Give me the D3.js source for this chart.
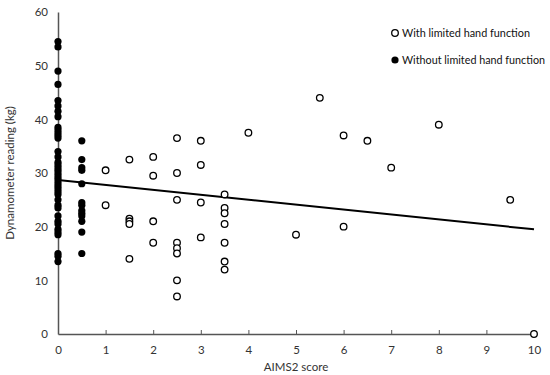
<!DOCTYPE html>
<html><head><meta charset="utf-8">
<script src="https://cdn.jsdelivr.net/npm/d3@7"></script>
<style>body{margin:0;background:#fff;} svg{display:block;font-family:Lato,sans-serif;}</style>
</head><body>
<svg id="c" width="550" height="375"></svg>
<script>
// Open circles: with limited hand function
const withX = [1,1, 1.5,1.5,1.5,1.5,1.5, 2,2,2,2, 2.5,2.5,2.5,2.5,2.5,2.5,2.5,2.5, 3,3,3,3, 3.5,3.5,3.5,3.5,3.5,3.5,3.5, 4, 5, 5.5, 6,6, 6.5, 7, 8, 9.5, 10];
const withY = [30.5,24, 32.5,21.5,21,20.5,14, 33,29.5,21,17, 36.5,30,25,17,16,15,10,7, 36,31.5,24.5,18, 26,23.5,22.5,20.5,17,13.5,12, 37.5, 18.5, 44, 37,20, 36, 31, 39, 25, 0];
// Filled circles: without limited hand function
const withoutX = [0,0,0,0,0,0,0,0,0,0,0,0,0,0,0,0,0,0,0,0,0,0,0,0,0,0,0,0,0,0,0,0,0,0,0,0,0,0,0,0,
                  0.5,0.5,0.5,0.5,0.5,0.5,0.5,0.5,0.5,0.5,0.5,0.5,0.5];
const withoutY = [54.5,53.5,49,46.5,43.5,42.5,41.5,40.5,38.5,38,37.5,37,36.5,34,33,32,31.5,31,30.5,30,29.5,29,28.5,28,27.5,27,26.5,26,25,24,23.5,22,21,20.5,19.5,19,18.5,15,14.5,13.5,
                  36,32.5,31,30.5,28,24.5,24,23,22.5,22,21,19,15];
// Linear trend line (intercept, slope)
const trendIntercept = 28.7;
const trendSlope = -0.92;
const xTicks = [0,1,2,3,4,5,6,7,8,9,10];
const yTicks = [0,10,20,30,40,50,60];
const legendLabels = ["With limited hand function","Without limited hand function"];

const svg = d3.select("#c");
const x = d3.scaleLinear().domain([0,10]).range([58,534]);
const y = d3.scaleLinear().domain([0,60]).range([334,12]);
const txt = "#333333";
const fs = "11.5px";

// axes
const gx = svg.append("g").attr("transform","translate(0,334)")
  .call(d3.axisBottom(x).tickValues(xTicks).tickSizeInner(-4).tickSizeOuter(0).tickPadding(12));
gx.select(".domain").attr("stroke","#555").attr("stroke-width",1.5);
gx.selectAll(".tick line").attr("stroke","#555");
gx.selectAll(".tick text").attr("fill",txt).style("font-size",fs).style("font-family","Lato");

const gy = svg.append("g").attr("transform","translate(58,0)")
  .call(d3.axisLeft(y).tickValues(yTicks).tickSize(0).tickPadding(10));
gy.select(".domain").attr("stroke","#555").attr("stroke-width",1.5);
gy.selectAll(".tick text").attr("fill",txt).style("font-size",fs).style("font-family","Lato");

svg.append("text").attr("x",296).attr("y",371).attr("text-anchor","middle")
  .attr("fill",txt).style("font-size",fs).text("AIMS2 score");
svg.append("text").attr("transform","translate(14,173) rotate(-90)").attr("text-anchor","middle")
  .attr("fill",txt).style("font-size",fs).text("Dynamometer reading (kg)");

// points
const dWith = withX.map((v,i)=>({x:v,y:withY[i]}));
const dWithout = withoutX.map((v,i)=>({x:v,y:withoutY[i]}));
svg.append("g").selectAll("circle").data(dWithout).join("circle")
  .attr("cx",d=>x(d.x)).attr("cy",d=>y(d.y)).attr("r",3.6).attr("fill","#000");

// trend line
svg.append("line")
  .attr("x1",x(0)).attr("y1",y(trendIntercept))
  .attr("x2",x(10)).attr("y2",y(trendIntercept+trendSlope*10))
  .attr("stroke","#000").attr("stroke-width",2);

svg.append("g").selectAll("circle").data(dWith).join("circle")
  .attr("cx",d=>x(d.x)).attr("cy",d=>y(d.y)).attr("r",3.3)
  .attr("fill","#fff").attr("stroke","#000").attr("stroke-width",1.3);

// legend
const lfs = "10.5px";
const lg = svg.append("g");
lg.append("circle").attr("cx",395).attr("cy",33).attr("r",3.3).attr("fill","#fff").attr("stroke","#000").attr("stroke-width",1.3);
lg.append("circle").attr("cx",395).attr("cy",60).attr("r",3.6).attr("fill","#000");
lg.append("text").attr("x",402).attr("y",37).attr("fill","#111").style("font-size",lfs)
  .attr("textLength",128).attr("lengthAdjust","spacingAndGlyphs").text(legendLabels[0]);
lg.append("text").attr("x",402).attr("y",64).attr("fill","#111").style("font-size",lfs)
  .attr("textLength",143).attr("lengthAdjust","spacingAndGlyphs").text(legendLabels[1]);
</script>
</body></html>
